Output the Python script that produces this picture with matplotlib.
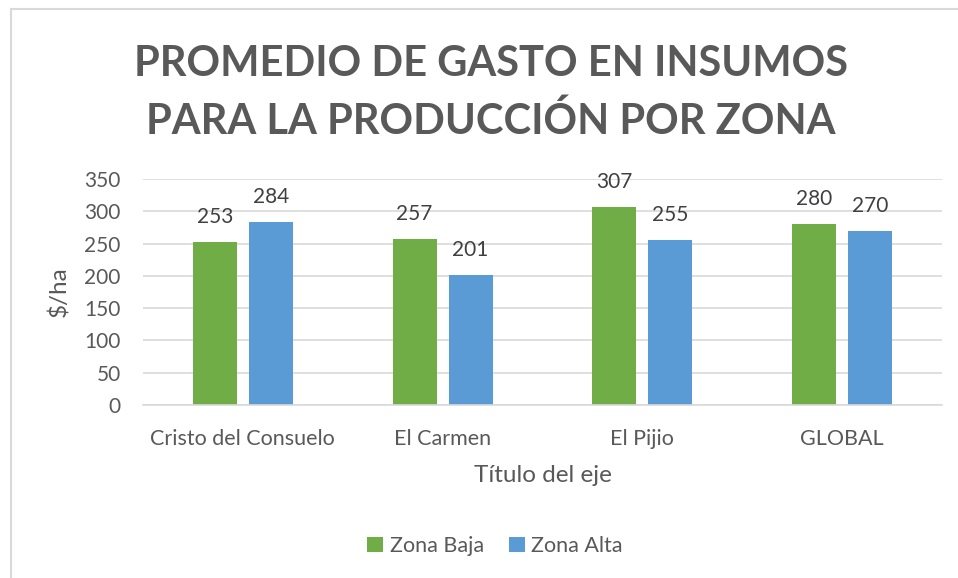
import matplotlib.pyplot as plt
import numpy as np
from matplotlib.lines import Line2D

# Chart data
zonas = ['Cristo del Consuelo', 'El Carmen', 'El Pijio', 'GLOBAL']
zona_baja = [253, 257, 307, 280]
zona_alta = [284, 201, 255, 270]
y_ticks = [0, 50, 100, 150, 200, 250, 300, 350]

gray = '#595959'
green = '#70AD47'
blue = '#5B9BD5'

plt.rcParams['font.family'] = ['Lato', 'DejaVu Sans']

fig = plt.figure(figsize=(9.58, 5.78), dpi=100)
ax = fig.add_axes([143 / 958, 1 - 405 / 578, (942 - 143) / 958, (405 - 179) / 578])

x = np.arange(len(zonas))
w = 0.22
b1 = ax.bar(x - 0.14, zona_baja, w, color=green, label='Zona Baja')
b2 = ax.bar(x + 0.14, zona_alta, w, color=blue, label='Zona Alta')

# Data labels
for bars in (b1, b2):
    for rect in bars:
        h = rect.get_height()
        ax.annotate(f'{h:.0f}', (rect.get_x() + rect.get_width() / 2, h),
                    xytext=(0, 18), textcoords='offset points',
                    ha='center', va='center', fontsize=15, color='#404040')

ax.set_xlim(-0.5, 3.5)
ax.set_ylim(0, 350)
ax.set_yticks(y_ticks)
ax.set_xticks(x)
ax.set_xticklabels(zonas)
ax.tick_params(axis='both', length=0, labelcolor=gray)
ax.tick_params(axis='x', pad=17, labelsize=15.5)
ax.tick_params(axis='y', pad=16, labelsize=15)
ax.grid(axis='y', color='#D9D9D9', linewidth=1.2)
ax.set_axisbelow(True)
for s in ['top', 'right', 'left']:
    ax.spines[s].set_visible(False)
ax.spines['bottom'].set_color('#D9D9D9')
ax.spines['bottom'].set_linewidth(1.2)

ax.set_ylabel('$/ha', fontsize=17.5, color=gray, labelpad=10)
ax.set_xlabel('Título del eje', fontsize=17.5, color=gray, labelpad=12)

fig.text(491 / 958, 1 - 93 / 578, 'PROMEDIO DE GASTO EN INSUMOS\nPARA LA PRODUCCIÓN POR ZONA',
         ha='center', va='center', fontsize=30, fontweight='bold', color=gray,
         linespacing=1.55)

fig.legend(loc='center', bbox_to_anchor=(495 / 958, 1 - 546 / 578), ncol=2,
           frameon=False, fontsize=15.5, labelcolor=gray, handlelength=0.75,
           handleheight=0.75, handletextpad=0.3, columnspacing=1.15)

# Chart border (top and left visible)
fig.add_artist(Line2D([10.5 / 958, 1], [1 - 8.5 / 578, 1 - 8.5 / 578],
                      transform=fig.transFigure, color='#D9D9D9', linewidth=1.5))
fig.add_artist(Line2D([10.5 / 958, 10.5 / 958], [0, 1 - 8.5 / 578],
                      transform=fig.transFigure, color='#D9D9D9', linewidth=1.5))

fig.savefig('out.png', dpi=100)
